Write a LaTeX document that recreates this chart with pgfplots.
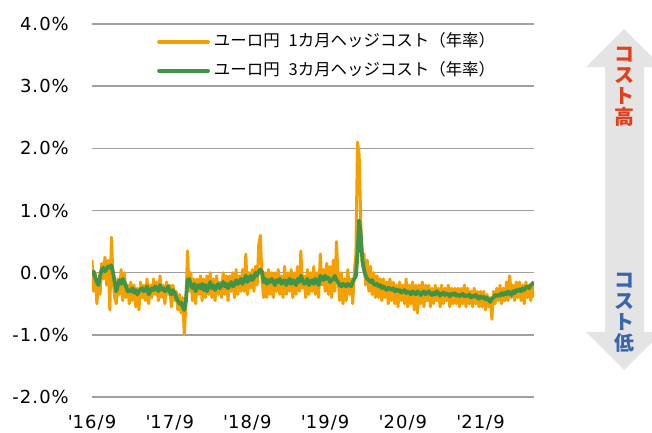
\documentclass[border=0pt]{standalone}
\usepackage{pgfplots}
\pgfplotsset{compat=1.18}
\usepackage{pgfplotstable}
\usepackage{fontspec}
\setmainfont{DejaVu Sans}[Ligatures=TeXOff]
\newfontfamily\tickfont{DejaVu Sans}[Ligatures=TeXOff, LetterSpace=6]
\newfontfamily\jp{Noto Sans CJK JP}
\definecolor{cOr}{RGB}{245,160,0}
\definecolor{cGr}{RGB}{64,148,72}
\definecolor{cGrid}{RGB}{160,160,160}
\definecolor{cArrow}{RGB}{228,228,228}
\definecolor{cRed}{RGB}{226,64,28}
\definecolor{cBlue}{RGB}{58,100,172}

% 1-month hedge cost, weekly samples (quarter-month steps from 2016/9)
\pgfplotstableread[row sep=\\, header=false]{
0.2\\ -0.3\\ 0.0\\ -0.5\\
-0.15\\ -0.35\\ 0.15\\ -0.1\\
0.25\\ -0.2\\ 0.2\\ -0.6\\
0.57\\ -0.1\\ -0.4\\ -0.5\\
-0.1\\ -0.35\\ 0.05\\ -0.45\\
0.0\\ -0.4\\ -0.2\\ -0.5\\
-0.15\\ -0.45\\ -0.2\\ -0.55\\
-0.25\\ -0.6\\ -0.15\\ -0.4\\
-0.2\\ -0.45\\ -0.1\\ -0.5\\
-0.2\\ -0.4\\ -0.1\\ -0.35\\
-0.15\\ -0.45\\ -0.05\\ -0.4\\
-0.2\\ -0.5\\ -0.15\\ -0.35\\
-0.2\\ -0.55\\ -0.2\\ -0.45\\
-0.3\\ -0.6\\ -0.35\\ -0.65\\
-0.4\\ -1.0\\ -0.5\\ 0.35\\
-0.3\\ 0.0\\ -0.45\\ -0.1\\
-0.5\\ -0.1\\ -0.35\\ -0.05\\
-0.45\\ -0.1\\ -0.4\\ -0.05\\
-0.35\\ 0.0\\ -0.4\\ -0.1\\
-0.45\\ -0.05\\ -0.35\\ -0.15\\
-0.4\\ 0.0\\ -0.35\\ -0.05\\
-0.45\\ -0.05\\ -0.3\\ 0.0\\
-0.4\\ 0.05\\ -0.35\\ -0.05\\
-0.3\\ 0.05\\ -0.3\\ 0.3\\
-0.35\\ 0.0\\ -0.25\\ 0.05\\
-0.3\\ 0.1\\ -0.2\\ 0.45\\
0.6\\ -0.1\\ -0.4\\ 0.0\\
-0.4\\ 0.05\\ -0.35\\ 0.0\\
-0.4\\ 0.0\\ -0.3\\ 0.05\\
-0.35\\ -0.05\\ -0.4\\ 0.1\\
-0.35\\ 0.0\\ -0.3\\ 0.05\\
-0.4\\ 0.0\\ -0.35\\ 0.1\\
-0.3\\ 0.35\\ -0.25\\ -0.05\\
-0.4\\ 0.05\\ -0.35\\ 0.0\\
-0.3\\ 0.1\\ -0.35\\ 0.0\\
-0.4\\ 0.3\\ -0.2\\ 0.05\\
-0.3\\ 0.15\\ -0.35\\ 0.1\\
-0.4\\ 0.2\\ -0.3\\ 0.5\\
-0.1\\ -0.45\\ 0.0\\ -0.5\\
-0.1\\ -0.45\\ 0.05\\ -0.35\\
-0.1\\ -0.5\\ 0.0\\ 0.3\\
2.1\\ 1.9\\ 0.8\\ 0.1\\
0.3\\ -0.2\\ 0.2\\ -0.3\\
0.1\\ -0.35\\ 0.0\\ -0.4\\
-0.05\\ -0.4\\ -0.1\\ -0.45\\
-0.1\\ -0.4\\ -0.15\\ -0.5\\
-0.1\\ -0.45\\ -0.15\\ -0.5\\
-0.2\\ -0.55\\ -0.15\\ -0.45\\
-0.2\\ -0.5\\ -0.1\\ -0.55\\
-0.2\\ -0.5\\ -0.15\\ -0.6\\
-0.2\\ -0.65\\ -0.2\\ -0.5\\
-0.15\\ -0.55\\ -0.2\\ -0.45\\
-0.2\\ -0.55\\ -0.25\\ -0.5\\
-0.2\\ -0.45\\ -0.25\\ -0.55\\
-0.2\\ -0.5\\ -0.25\\ -0.45\\
-0.2\\ -0.55\\ -0.25\\ -0.5\\
-0.25\\ -0.5\\ -0.25\\ -0.55\\
-0.25\\ -0.5\\ -0.2\\ -0.55\\
-0.25\\ -0.5\\ -0.3\\ -0.55\\
-0.25\\ -0.5\\ -0.3\\ -0.55\\
-0.3\\ -0.55\\ -0.3\\ -0.6\\
-0.35\\ -0.55\\ -0.4\\ -0.75\\
-0.3\\ -0.5\\ -0.25\\ -0.45\\
-0.2\\ -0.5\\ -0.25\\ -0.45\\
-0.15\\ -0.45\\ -0.05\\ -0.4\\
-0.2\\ -0.45\\ -0.15\\ -0.4\\
-0.15\\ -0.45\\ -0.2\\ -0.5\\
-0.15\\ -0.4\\ -0.2\\ -0.45\\
-0.2\\ -0.4\\
}\orange

% 3-month hedge cost, weekly samples
\pgfplotstableread[row sep=\\, header=false]{
-0.05\\ 0.02\\ -0.08\\ -0.15\\
-0.2\\ -0.05\\ 0.05\\ 0.08\\
0.02\\ 0.06\\ 0.1\\ 0.08\\
0.12\\ 0.0\\ -0.15\\ -0.3\\
-0.2\\ -0.12\\ -0.18\\ -0.1\\
-0.15\\ -0.22\\ -0.3\\ -0.28\\
-0.3\\ -0.25\\ -0.32\\ -0.28\\
-0.35\\ -0.3\\ -0.27\\ -0.25\\
-0.3\\ -0.28\\ -0.22\\ -0.35\\
-0.3\\ -0.25\\ -0.28\\ -0.22\\
-0.25\\ -0.3\\ -0.2\\ -0.27\\
-0.25\\ -0.3\\ -0.28\\ -0.22\\
-0.3\\ -0.35\\ -0.28\\ -0.32\\
-0.4\\ -0.45\\ -0.5\\ -0.48\\
-0.55\\ -0.6\\ -0.45\\ -0.12\\
-0.1\\ -0.2\\ -0.25\\ -0.18\\
-0.3\\ -0.22\\ -0.2\\ -0.25\\
-0.18\\ -0.28\\ -0.2\\ -0.3\\
-0.22\\ -0.15\\ -0.25\\ -0.2\\
-0.28\\ -0.22\\ -0.18\\ -0.25\\
-0.2\\ -0.15\\ -0.22\\ -0.18\\
-0.25\\ -0.2\\ -0.15\\ -0.22\\
-0.2\\ -0.12\\ -0.18\\ -0.15\\
-0.1\\ -0.18\\ -0.12\\ -0.05\\
-0.15\\ -0.1\\ -0.05\\ -0.12\\
-0.08\\ 0.0\\ -0.05\\ 0.02\\
0.05\\ 0.02\\ -0.15\\ -0.1\\
-0.18\\ -0.12\\ -0.15\\ -0.1\\
-0.15\\ -0.2\\ -0.12\\ -0.15\\
-0.1\\ -0.18\\ -0.15\\ -0.12\\
-0.2\\ -0.15\\ -0.1\\ -0.18\\
-0.12\\ -0.15\\ -0.2\\ -0.1\\
-0.15\\ -0.05\\ -0.12\\ -0.18\\
-0.15\\ -0.1\\ -0.2\\ -0.15\\
-0.12\\ -0.18\\ -0.1\\ -0.15\\
-0.2\\ -0.05\\ -0.08\\ -0.12\\
-0.05\\ -0.1\\ -0.08\\ -0.15\\
-0.12\\ -0.1\\ -0.05\\ -0.12\\
-0.15\\ -0.2\\ -0.22\\ -0.18\\
-0.2\\ -0.22\\ -0.18\\ -0.2\\
-0.22\\ -0.15\\ -0.1\\ -0.05\\
0.3\\ 0.84\\ 0.6\\ 0.2\\
0.05\\ -0.05\\ -0.1\\ -0.12\\
-0.15\\ -0.12\\ -0.18\\ -0.2\\
-0.18\\ -0.22\\ -0.2\\ -0.25\\
-0.22\\ -0.25\\ -0.28\\ -0.24\\
-0.26\\ -0.28\\ -0.25\\ -0.3\\
-0.27\\ -0.3\\ -0.28\\ -0.32\\
-0.3\\ -0.28\\ -0.33\\ -0.3\\
-0.32\\ -0.35\\ -0.3\\ -0.33\\
-0.35\\ -0.3\\ -0.32\\ -0.36\\
-0.33\\ -0.3\\ -0.35\\ -0.32\\
-0.3\\ -0.34\\ -0.36\\ -0.32\\
-0.35\\ -0.3\\ -0.33\\ -0.37\\
-0.34\\ -0.32\\ -0.36\\ -0.33\\
-0.35\\ -0.38\\ -0.34\\ -0.36\\
-0.33\\ -0.37\\ -0.35\\ -0.38\\
-0.36\\ -0.34\\ -0.38\\ -0.36\\
-0.38\\ -0.35\\ -0.4\\ -0.37\\
-0.39\\ -0.36\\ -0.4\\ -0.42\\
-0.38\\ -0.41\\ -0.39\\ -0.43\\
-0.4\\ -0.44\\ -0.47\\ -0.42\\
-0.4\\ -0.36\\ -0.38\\ -0.35\\
-0.37\\ -0.33\\ -0.36\\ -0.32\\
-0.35\\ -0.3\\ -0.33\\ -0.36\\
-0.3\\ -0.33\\ -0.28\\ -0.3\\
-0.27\\ -0.3\\ -0.25\\ -0.28\\
-0.24\\ -0.22\\ -0.25\\ -0.2\\
-0.18\\ -0.15\\
}\green

\begin{document}
\begin{tikzpicture}[x=1bp,y=1bp]
% decorative double arrow on the right
\fill[cArrow] (624,403) -- (662,365) -- (644,365) -- (644,100) -- (662,100)
  -- (624,62) -- (586,100) -- (605,100) -- (605,365) -- (586,365) -- cycle;
\node[text=cRed, font=\jp\bfseries\fontsize{20}{21}\selectfont, align=center, inner sep=0pt]
  at (624,345.5) {コ\\ス\\ト\\高};
\node[text=cBlue, font=\jp\bfseries\fontsize{20}{21}\selectfont, align=center, inner sep=0pt]
  at (624,119.5) {コ\\ス\\ト\\低};

\begin{axis}[
  at={(92bp,35bp)}, anchor=south west,
  scale only axis, width=442bp, height=373bp,
  xmin=0, xmax=273, ymin=-2, ymax=4,
  axis line style={draw=none},
  major tick length=0pt,
  ymajorgrids, grid style={cGrid, line width=1.5bp},
  ytick={-2,-1,0,1,2,3,4},
  yticklabels={-2.0\%,-1.0\%,0.0\%,1.0\%,2.0\%,3.0\%,4.0\%},
  xtick={0,48,96,144,192,240},
  xticklabels={\textquotesingle16/9,\textquotesingle17/9,\textquotesingle18/9,\textquotesingle19/9,\textquotesingle20/9,\textquotesingle21/9},
  ticklabel style={font=\tickfont\fontsize{18}{20}\selectfont, inner sep=0pt},
  yticklabel style={anchor=east, xshift=-23bp},
  xticklabel style={anchor=north, yshift=-18bp},
  legend style={at={(axis description cs:0.147,0.913)}, anchor=west,
    draw=none, fill=none, inner sep=0pt, row sep=13bp,
    font=\jp\fontsize{16.5}{19}\selectfont,
    nodes={inner sep=0pt, text height=13bp, text depth=3bp}},
  legend cell align=left,
  legend image code/.code={\draw[#1, line cap=round, line width=3.8bp] (0bp,0bp) -- (49bp,0bp);},
]
\addplot[cOr, line width=3bp, line join=round] table[x expr=\coordindex, y index=0] {\orange};
\addlegendentry{\hspace{4bp}ユーロ円\hspace{9bp}1カ月ヘッジコスト（年率）}
\addplot[cGr, line width=3.8bp, line join=round] table[x expr=\coordindex, y index=0] {\green};
\addlegendentry{\hspace{4bp}ユーロ円\hspace{9bp}3カ月ヘッジコスト（年率）}
\end{axis}
\pgfresetboundingbox
\path[use as bounding box] (0,0) rectangle (652,432);
\end{tikzpicture}
\end{document}
